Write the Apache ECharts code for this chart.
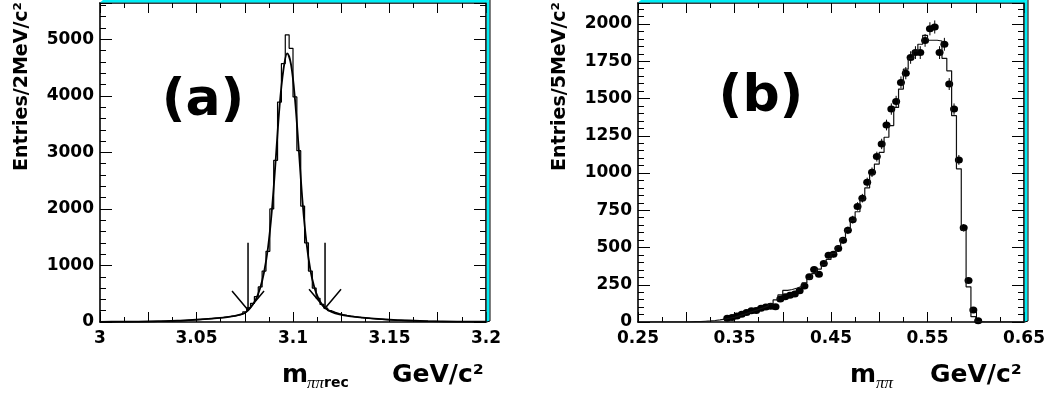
<!DOCTYPE html>
<html>
<head>
<meta charset="utf-8">
<script src="https://cdn.jsdelivr.net/npm/echarts@6/dist/echarts.min.js"></script>
<style>
  html, body { margin: 0; padding: 0; background: #fff; }
  #chart { width: 1045px; height: 395px; }
</style>
</head>
<body>
<div id="chart"></div>
<script>
// ---- (a) recoil mass, 2 MeV bins from 3.0 to 3.2 GeV ----
const recBinStart = 3.0;
const recBinWidth = 0.002;
const recCounts = [
  1, 1, 1, 2, 2, 2, 3, 3, 4, 4,
  5, 6, 7, 8, 9, 10, 12, 14, 16, 18,
  21, 24, 28, 32, 37, 42, 48, 54, 60, 67,
  74, 82, 92, 98, 108, 120, 140, 180,
  250, 330, 450, 620, 900, 1250, 2000, 2860, 3890, 4570,
  5080, 4840, 3980, 3030, 2050, 1400, 900, 600, 420, 310,
  245, 200, 170, 148, 130, 116, 104, 94, 85, 77,
  70, 63, 57, 51, 46, 41, 37, 33, 30, 27,
  24, 21, 19, 17, 15, 13, 12, 11, 10, 9,
  8, 7, 6, 6, 5, 5, 4, 4, 3, 3, 2, 2
];
// fitted curve
const recFitX = [3.000, 3.010, 3.020, 3.030, 3.040, 3.050, 3.056, 3.062, 3.066, 3.070,
  3.073, 3.075, 3.077, 3.079, 3.081, 3.083, 3.085, 3.087, 3.089, 3.091,
  3.093, 3.095, 3.097, 3.099, 3.101, 3.103, 3.105, 3.107, 3.109, 3.111,
  3.113, 3.115, 3.117, 3.120, 3.124, 3.130, 3.136, 3.142, 3.150, 3.160,
  3.170, 3.185, 3.200];
const recFitY = [3, 5, 8, 15, 24, 42, 55, 72, 88, 110,
  135, 160, 215, 300, 420, 600, 880, 1300, 1950, 2850,
  3800, 4450, 4750, 4550, 3950, 3050, 2100, 1400, 920, 620,
  430, 310, 240, 180, 135, 100, 78, 60, 42, 27,
  16, 8, 4];
// signal window arrows
const cutX = [3.0767, 3.1166];
const cutTip = [212, 242];
const cutTop = 1400;
const recXLabels = ['3', '3.05', '3.1', '3.15', '3.2'];
const recYLabels = ['0', '1000', '2000', '3000', '4000', '5000'];

// ---- (b) m_pipi, 5 MeV bins from 0.25 to 0.65 GeV ----
const mBinStart = 0.25;
const mBinWidth = 0.005;
const mcCounts = [
  0, 0, 0, 0, 0, 0, 0, 0, 0, 0,
  1, 2, 3, 5, 7, 10, 14, 19,
  25, 32, 41, 52, 63, 74, 85,
  96, 108, 122, 148, 182,
  212, 218, 228, 240, 262, 290, 325, 355, 385, 420,
  460, 505, 560, 620, 680, 740, 820, 900, 990, 1060,
  1139, 1240, 1318, 1440, 1563, 1697, 1770, 1819, 1864, 1924,
  1891, 1891, 1886, 1770, 1686, 1385, 1028, 615, 236, 36,
  3, 0, 0, 0, 0, 0, 0, 0, 0, 0
];
const dataFirstBin = 18;
const dataCounts = [
  25, 30, 40, 52, 63, 75, 78, 92, 100, 105,
  103, 155, 170, 180, 188, 209, 241, 303, 352, 321,
  393, 448, 455, 493, 548, 615, 687, 776, 831, 938,
  1005, 1110, 1195, 1322, 1429, 1480, 1608, 1670, 1775, 1808,
  1808, 1890, 1968, 1980, 1808, 1864, 1597, 1429, 1088, 632,
  278, 80, 9
];
const dataErrors = [
  5, 5, 6, 7, 8, 9, 9, 10, 10, 10,
  10, 12, 13, 13, 14, 14, 16, 17, 19, 18,
  20, 21, 21, 22, 23, 25, 26, 28, 29, 31,
  32, 33, 35, 36, 38, 38, 40, 41, 42, 43,
  43, 43, 44, 44, 43, 43, 40, 38, 33, 25,
  17, 9, 3
];
const mXLabels = ['0.25', '0.35', '0.45', '0.55', '0.65'];
const mYLabels = ['0', '250', '500', '750', '1000', '1250', '1500', '1750', '2000'];

const FONT = 'DejaVu Sans';
const CYAN = '#00eef6';

function stepData(start, width, counts) {
  const pts = counts.map((c, i) => [start + i * width, c]);
  pts.push([start + counts.length * width, counts[counts.length - 1]]);
  return pts;
}
function pickLabel(labels, v) {
  const hit = labels.find(l => Math.abs(parseFloat(l) - v) < 1e-6);
  return hit === undefined ? '' : hit;
}

const recStep = stepData(recBinStart, recBinWidth, recCounts);
const mcStep = stepData(mBinStart, mBinWidth, mcCounts);
const dataPts = dataCounts.map((c, i) => [mBinStart + (dataFirstBin + i + 0.5) * mBinWidth, c, dataErrors[i]]);

const grids = [
  { left: 100, top: 3, width: 386, height: 319, outerBoundsMode: 'none', containLabel: false },
  { left: 638, top: 3, width: 386, height: 319, outerBoundsMode: 'none', containLabel: false }
];

function xAxes(gridIndex, min, max, interval, labels) {
  const common = {
    type: 'value', gridIndex, min, max, interval,
    splitLine: { show: false },
    axisLine: { show: true, onZero: false, lineStyle: { color: '#000', width: 1.6 } },
    axisTick: { show: true, inside: true, length: 10, lineStyle: { color: '#000', width: 1 } },
    minorTick: { show: true, splitNumber: 2, length: 5, lineStyle: { color: '#000', width: 1 } }
  };
  return [
    Object.assign({}, common, {
      position: 'bottom',
      axisLabel: {
        show: true, margin: 8, color: '#000', fontFamily: FONT, fontWeight: 'bold', fontSize: 17,
        showMinLabel: true, showMaxLabel: true,
        formatter: v => pickLabel(labels, v)
      }
    }),
    Object.assign({}, common, { position: 'top', axisLabel: { show: false } })
  ];
}

function yAxes(gridIndex, max, interval, labels, name) {
  const common = {
    type: 'value', gridIndex, min: 0, max, interval,
    splitLine: { show: false },
    axisLine: { show: true, onZero: false, lineStyle: { color: '#000', width: 1.6 } },
    axisTick: { show: true, inside: true, length: 12, lineStyle: { color: '#000', width: 1 } },
    minorTick: { show: true, splitNumber: 5, length: 6, lineStyle: { color: '#000', width: 1 } }
  };
  return [
    Object.assign({}, common, {
      position: 'left',
      axisLabel: {
        show: true, margin: 6, color: '#000', fontFamily: FONT, fontWeight: 'bold', fontSize: 17,
        showMaxLabel: false,
        formatter: v => pickLabel(labels, v)
      },
      name,
      nameLocation: 'middle',
      nameRotate: 90,
      nameGap: 68,
      nameTextStyle: {
        align: 'center', verticalAlign: 'bottom', padding: [0, 0, 0, 152],
        color: '#000', fontFamily: FONT, fontWeight: 'bold', fontSize: 19
      }
    }),
    Object.assign({}, common, { position: 'right', axisLabel: { show: false } })
  ];
}

// cyan border on top and right of each frame
function frame(g) {
  const x0 = g.left, y0 = g.top, x1 = g.left + g.width, y1 = g.top + g.height;
  return [
    { type: 'polygon', z: 100, shape: { points: [[x0, y0 - 0.5], [x0 + 3, 0], [x1 + 3.5, 0], [x1 + 0.8, y0 - 0.5]] },
      style: { fill: CYAN } },
    { type: 'polygon', z: 100, shape: { points: [[x1 + 0.8, y0 - 0.5], [x1 + 3.5, 0], [x1 + 3.5, y1], [x1 + 0.8, y1]] },
      style: { fill: CYAN } },
    { type: 'polyline', z: 101, shape: { points: [[x1 + 0.8, y1], [x1 + 4, y1 - 1], [x1 + 4, 0]] },
      style: { stroke: '#000', lineWidth: 1, fill: null } }
  ];
}

// x-axis titles: m with subscript, then the unit
function xTitle(xm, xsub, sub, xunit) {
  return [
    { type: 'text', x: xm, y: 388, z: 50,
      style: { text: 'm', fontFamily: FONT, fontWeight: 'bold', fontSize: 25, fill: '#000', verticalAlign: 'bottom' } },
    { type: 'text', x: xsub, y: 392, z: 50,
      style: { text: sub, fill: '#000', verticalAlign: 'bottom',
        rich: {
          pp: { fontFamily: 'Liberation Serif', fontStyle: 'italic', fontSize: 17, fill: '#000' },
          rec: { fontFamily: FONT, fontWeight: 'bold', fontSize: 14, fill: '#000' }
        } } },
    { type: 'text', x: xunit, y: 388, z: 50,
      style: { text: 'GeV/c²', fontFamily: FONT, fontWeight: 'bold', fontSize: 25, fill: '#000', verticalAlign: 'bottom' } }
  ];
}

const chart = echarts.init(document.getElementById('chart'), null, { renderer: 'canvas' });
chart.setOption({
  animation: false,
  backgroundColor: '#fff',
  grid: grids,
  xAxis: [
    ...xAxes(0, 3.0, 3.2, 0.025, recXLabels),
    ...xAxes(1, 0.25, 0.65, 0.05, mXLabels)
  ],
  yAxis: [
    ...yAxes(0, 5642, 1000, recYLabels, 'Entries/2MeV/c²'),
    ...yAxes(1, 2141, 250, mYLabels, 'Entries/5MeV/c²')
  ],
  graphic: [
    { type: 'text', x: 203, y: 101, z: 50,
      style: { text: '(a)', fontFamily: FONT, fontWeight: 'bold', fontSize: 52, fill: '#000', align: 'center', verticalAlign: 'middle' } },
    { type: 'text', x: 761, y: 97, z: 50,
      style: { text: '(b)', fontFamily: FONT, fontWeight: 'bold', fontSize: 52, fill: '#000', align: 'center', verticalAlign: 'middle' } },
    ...xTitle(282, 307, '{pp|ππ}{rec|rec}', 392),
    ...xTitle(850, 876, '{pp|ππ}', 930),
    ...frame(grids[0]),
    ...frame(grids[1])
  ],
  series: [
    {
      name: 'rec histogram', type: 'line', xAxisIndex: 0, yAxisIndex: 0,
      data: recStep, step: 'end', symbol: 'none',
      lineStyle: { color: '#000', width: 1.2 }
    },
    {
      name: 'rec fit', type: 'line', xAxisIndex: 0, yAxisIndex: 0,
      data: recFitX.map((x, i) => [x, recFitY[i]]), smooth: 0.35, symbol: 'none',
      lineStyle: { color: '#000', width: 1.8 }
    },
    {
      name: 'cuts', type: 'custom', xAxisIndex: 0, yAxisIndex: 0,
      data: cutX.map((x, i) => [x, cutTip[i], cutTop]),
      renderItem(params, api) {
        const tip = api.coord([api.value(0), api.value(1)]);
        const top = api.coord([api.value(0), api.value(2)]);
        return {
          type: 'group',
          children: [
            { type: 'line', shape: { x1: top[0], y1: top[1], x2: tip[0], y2: tip[1] },
              style: { stroke: '#000', lineWidth: 1.5 } },
            { type: 'polyline', shape: { points: [[tip[0] - 16, tip[1] - 19], tip, [tip[0] + 16, tip[1] - 19]] },
              style: { stroke: '#000', fill: null, lineWidth: 1.5 } }
          ]
        };
      }
    },
    {
      name: 'MC', type: 'line', xAxisIndex: 2, yAxisIndex: 2,
      data: mcStep, step: 'end', symbol: 'none',
      lineStyle: { color: '#111', width: 1.2 }
    },
    {
      name: 'data errors', type: 'custom', xAxisIndex: 2, yAxisIndex: 2,
      data: dataPts,
      renderItem(params, api) {
        const lo = api.coord([api.value(0), api.value(1) - api.value(2)]);
        const hi = api.coord([api.value(0), api.value(1) + api.value(2)]);
        return { type: 'line', shape: { x1: lo[0], y1: lo[1], x2: hi[0], y2: hi[1] },
          style: { stroke: '#000', lineWidth: 1 } };
      }
    },
    {
      name: 'data', type: 'scatter', xAxisIndex: 2, yAxisIndex: 2,
      data: dataPts.map(p => [p[0], p[1]]),
      symbol: 'circle', symbolSize: [8, 7],
      itemStyle: { color: '#000', opacity: 1 }
    }
  ]
});
</script>
</body>
</html>
